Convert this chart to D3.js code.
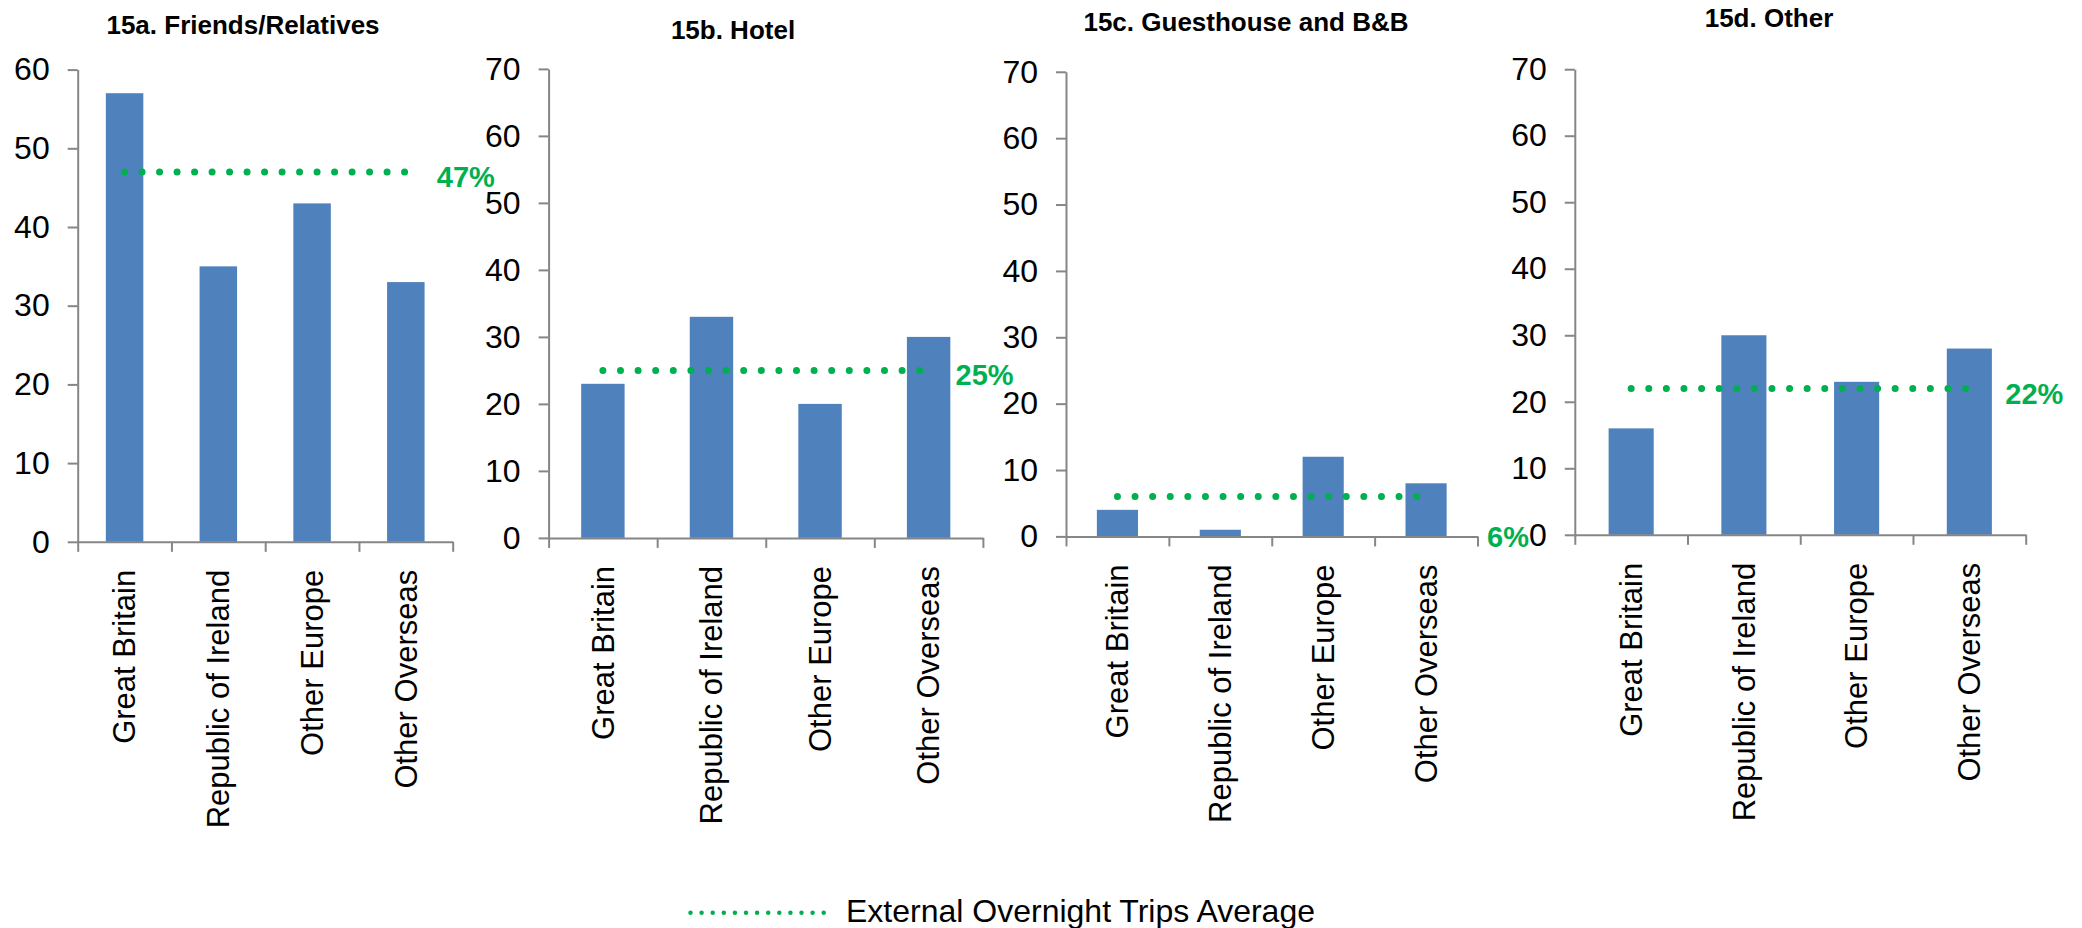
<!DOCTYPE html>
<html>
<head>
<meta charset="utf-8">
<script src="https://cdn.jsdelivr.net/npm/d3@7"></script>
<style>
  html, body { margin: 0; padding: 0; background: #fff; }
  svg { display: block; font-family: "Liberation Sans", Arial, sans-serif; }
</style>
</head>
<body>
<script>
// ---------------- DATA ----------------
const categories = ["Great Britain", "Republic of Ireland", "Other Europe", "Other Overseas"];
const panelTitles = ["15a. Friends/Relatives", "15b. Hotel", "15c. Guesthouse and B&B", "15d. Other"];
const friendsRelatives = [57, 35, 43, 33];
const hotel = [23, 33, 20, 30];
const guesthouseBB = [4, 1, 12, 8];
const other = [16, 30, 23, 28];
const averageValues = [47, 25, 6, 22];
const averageLabels = ["47%", "25%", "6%", "22%"];
const yMaxValues = [60, 70, 70, 70];
const yTicksA = [0, 10, 20, 30, 40, 50, 60];
const yTicksBCD = [0, 10, 20, 30, 40, 50, 60, 70];
const legendLabel = "External Overnight Trips Average";

const seriesValues = [friendsRelatives, hotel, guesthouseBB, other];
const yTickSets = [yTicksA, yTicksBCD, yTicksBCD, yTicksBCD];

// ---------------- LAYOUT (positions / styles) ----------------
const layout = [
  { x0: 77.7,   x1: 452.7,  yTop: 69.6, yZero: 541.8, titleX: 243,  titleY: 34,   lblDx: 31, lblDy: 15,   dotGap: 17.5 },
  { x0: 548.6,  x1: 982.9,  yTop: 68.9, yZero: 537.9, titleX: 733,  titleY: 38.5, lblDx: 27, lblDy: 15,   dotGap: 17.6 },
  { x0: 1066,   x1: 1477.5, yTop: 71.8, yZero: 536.4, titleX: 1246, titleY: 30.5, lblDx: 61, lblDy: 50,   dotGap: 17.6 },
  { x0: 1574.8, x1: 2025.7, yTop: 69.2, yZero: 534.8, titleX: 1769, titleY: 27,   lblDx: 36, lblDy: 15.5, dotGap: 17.6 }
];
const barColor = "#4F81BD";
const avgColor = "#00B050";
const axisColor = "#868686";
const tickFont = 32;
const catFont = 31;

const svg = d3.select("body").append("svg")
  .attr("width", 2082).attr("height", 928);

seriesValues.forEach((values, i) => {
  const L = layout[i];
  const g = svg.append("g");

  const x = d3.scaleBand().domain(categories).range([L.x0, L.x1])
    .paddingInner(0.6).paddingOuter(0.3);
  const xEdges = d3.scaleLinear().domain([0, categories.length]).range([L.x0, L.x1]);
  const y = d3.scaleLinear().domain([0, yMaxValues[i]]).range([L.yZero, L.yTop]);

  // bars
  g.append("g").selectAll("rect").data(values).join("rect")
    .attr("x", (d, j) => x(categories[j]))
    .attr("y", d => y(d))
    .attr("width", x.bandwidth())
    .attr("height", d => y(0) - y(d))
    .attr("fill", barColor);

  // y axis
  const yAxisG = g.append("g").attr("transform", `translate(${L.x0},0)`)
    .call(d3.axisLeft(y).tickValues(yTickSets[i]).tickSize(10).tickSizeOuter(0)
      .tickPadding(18).tickFormat(d3.format("d")));
  yAxisG.selectAll("text").attr("font-size", tickFont).attr("fill", "#000")
    .attr("font-family", "Liberation Sans, Arial, sans-serif");

  // x axis (tick marks between categories)
  const xAxisG = g.append("g").attr("transform", `translate(0,${L.yZero})`)
    .call(d3.axisBottom(xEdges).tickValues(d3.range(categories.length + 1))
      .tickSize(10).tickSizeOuter(0).tickFormat(""));

  [yAxisG, xAxisG].forEach(a => {
    a.select(".domain").attr("stroke", axisColor).attr("stroke-width", 2);
    a.selectAll(".tick line").attr("stroke", axisColor).attr("stroke-width", 2);
  });

  // category labels (rotated)
  const xLabelG = g.append("g").attr("transform", `translate(0,${L.yZero})`)
    .call(d3.axisBottom(x).tickSize(0).tickPadding(0));
  xLabelG.select(".domain").remove();
  xLabelG.selectAll("text")
    .attr("transform", "rotate(-90)")
    .attr("text-anchor", "end")
    .attr("x", -28).attr("y", 0).attr("dy", "0.35em")
    .attr("font-size", catFont).attr("fill", "#000")
    .attr("font-family", "Liberation Sans, Arial, sans-serif");

  // average dotted line
  const firstC = x(categories[0]) + x.bandwidth() / 2;
  const lastC = x(categories[categories.length - 1]) + x.bandwidth() / 2;
  g.append("line")
    .attr("x1", firstC).attr("x2", lastC)
    .attr("y1", y(averageValues[i])).attr("y2", y(averageValues[i]))
    .attr("stroke", avgColor).attr("stroke-width", 7)
    .attr("stroke-linecap", "round")
    .attr("stroke-dasharray", `0 ${L.dotGap}`);

  g.append("text")
    .attr("x", lastC + L.lblDx).attr("y", y(averageValues[i]) + L.lblDy)
    .attr("font-size", 29).attr("font-weight", "bold").attr("fill", avgColor)
    .text(averageLabels[i]);

  // title
  g.append("text")
    .attr("x", L.titleX).attr("y", L.titleY)
    .attr("text-anchor", "middle")
    .attr("font-size", 26).attr("font-weight", "bold").attr("fill", "#000")
    .text(panelTitles[i]);
});

// legend
const legend = svg.append("g");
legend.append("line")
  .attr("x1", 690.5).attr("x2", 823.7).attr("y1", 912.7).attr("y2", 912.7)
  .attr("stroke", avgColor).attr("stroke-width", 4.5)
  .attr("stroke-linecap", "round").attr("stroke-dasharray", "0 11.1");
legend.append("text")
  .attr("x", 846).attr("y", 921.7)
  .attr("font-size", 32).attr("fill", "#000")
  .text(legendLabel);
</script>
</body>
</html>
